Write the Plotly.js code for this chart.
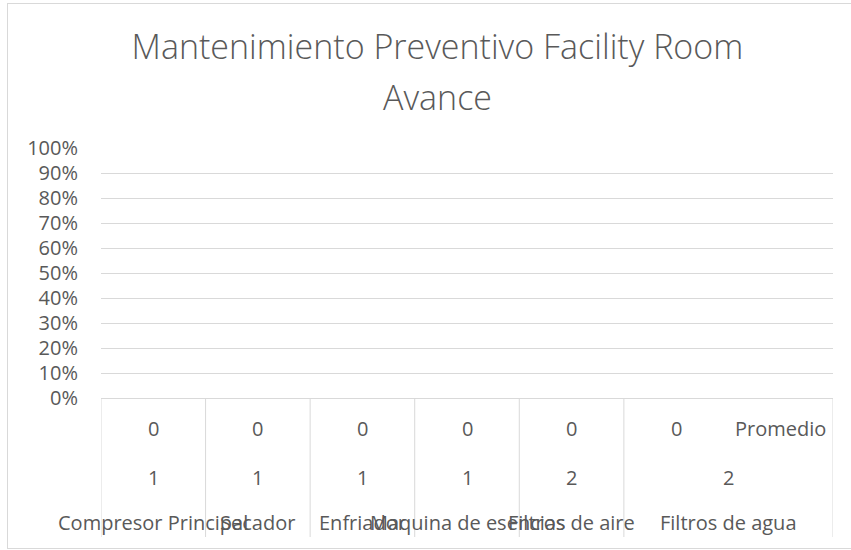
<!DOCTYPE html>
<html>
<head>
<meta charset="utf-8">
<script src="https://cdn.plot.ly/plotly-3.0.1.min.js"></script>
<style>
  html, body { margin: 0; padding: 0; background: #ffffff; overflow: hidden; }
  #wrap { position: relative; width: 851px; height: 550px; }
  #chart { position: absolute; left: 0; top: 0; width: 851px; height: 550px; }
  #frame { position: absolute; left: 7px; top: 3px; width: 900px; height: 544px;
           border: 1px solid #d9d9d9; pointer-events: none; }
</style>
</head>
<body>
<div id="wrap">
  <div id="chart"></div>
  <div id="frame"></div>
</div>
<script>
// ---- data ----
const tituloLinea1 = 'Mantenimiento Preventivo Facility Room';
const tituloLinea2 = 'Avance';
// innermost category level (one per leaf)
const nivel1 = ['0', '0', '0', '0', '0', '0', 'Promedio'];
// outer levels, one per group
const nivel2 = ['1', '1', '1', '1', '2', '2'];
const grupos = ['Compresor Principal', 'Secador', 'Enfriador', 'Maquina de esencias', 'Filtros de aire', 'Filtros de agua'];
const hojasPorGrupo = [1, 1, 1, 1, 1, 2];
// series values (Avance)
const avance = [0, 0, 0, 0, 0, 0, 0];

// ---- build ----
const leafX = nivel1.map((_, i) => i);
const gray = '#595959';
const lineCol = '#d9d9d9';
const fontFam = '"Open Sans", "Noto Sans", sans-serif';
const lblSize = 20;
const titleSize = 34;

const annotations = [];
const shapes = [];

// level 1 labels
nivel1.forEach((t, i) => {
  annotations.push({x: leafX[i], xref: 'x', y: -0.12, yref: 'paper', text: t,
    showarrow: false, xanchor: 'center', yanchor: 'middle',
    font: {family: fontFam, size: lblSize, color: gray}});
});

// group labels and separators
let start = 0;
shapes.push({type: 'line', xref: 'x', yref: 'paper', x0: -0.5, x1: -0.5, y0: 0, y1: -0.556,
  line: {color: lineCol, width: 1}});
grupos.forEach((g, k) => {
  const n = hojasPorGrupo[k];
  const center = start + (n - 1) / 2;
  annotations.push({x: center, xref: 'x', y: -0.316, yref: 'paper', text: nivel2[k],
    showarrow: false, xanchor: 'center', yanchor: 'middle',
    font: {family: fontFam, size: lblSize, color: gray}});
  annotations.push({x: center, xref: 'x', y: -0.496, yref: 'paper', text: g,
    showarrow: false, xanchor: 'center', yanchor: 'middle',
    font: {family: fontFam, size: lblSize, color: gray}});
  start += n;
  shapes.push({type: 'line', xref: 'x', yref: 'paper', x0: start - 0.5, x1: start - 0.5, y0: 0, y1: -0.556,
    line: {color: lineCol, width: 1}});
});

// second title line (centered on the chart frame)
const paperX = (0.514 * 851 - 101) / 732;
annotations.push({x: paperX, xref: 'paper', y: 1.204, yref: 'paper',
  text: tituloLinea2, showarrow: false, xanchor: 'center', yanchor: 'middle',
  font: {family: fontFam, size: titleSize, color: gray, weight: 300}});

const trace = {
  type: 'bar', x: leafX, y: avance, name: 'Avance',
  marker: {color: '#4472c4'}, hoverinfo: 'skip'
};

const layout = {
  width: 851, height: 550,
  margin: {l: 101, r: 18, t: 148, b: 152, pad: 0},
  paper_bgcolor: 'rgba(0,0,0,0)', plot_bgcolor: 'rgba(0,0,0,0)',
  showlegend: false,
  title: {text: tituloLinea1, x: 0.514, xref: 'container', xanchor: 'center',
    y: 1 - 47 / 550, yref: 'container', yanchor: 'middle',
    font: {family: fontFam, size: titleSize, color: gray, weight: 300}},
  xaxis: {type: 'linear', range: [-0.5, 6.5], showticklabels: false, ticks: '',
    showgrid: false, zeroline: false, showline: true, linecolor: lineCol, linewidth: 1,
    fixedrange: true},
  yaxis: {range: [0, 1], dtick: 0.1, tick0: 0, tickformat: '.0%', ticks: '',
    showgrid: true, gridcolor: lineCol, gridwidth: 1, zeroline: false, showline: false,
    ticklabelstandoff: 22,
    tickfont: {family: fontFam, size: lblSize, color: gray}, fixedrange: true},
  annotations: annotations,
  shapes: shapes
};

Plotly.newPlot('chart', [trace], layout, {displayModeBar: false, staticPlot: true});
</script>
</body>
</html>
